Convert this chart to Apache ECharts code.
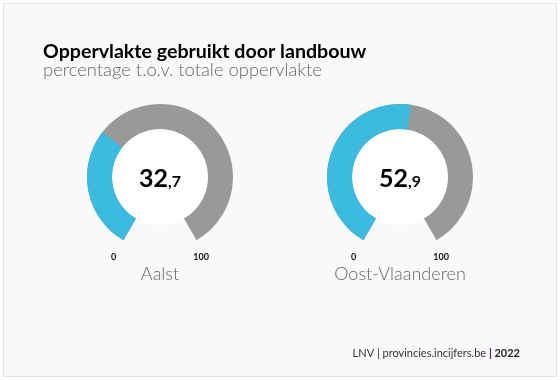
<!DOCTYPE html>
<html>
<head>
<meta charset="utf-8">
<script src="https://cdn.jsdelivr.net/npm/echarts@6/dist/echarts.min.js"></script>
<style>
html,body{margin:0;padding:0;background:#fff;}
#frame{position:absolute;left:3px;top:3px;width:552px;height:372px;border:1px solid #e2e2e2;background:#f9f9f9;}
#chart{position:absolute;left:0;top:0;width:560px;height:380px;}
</style>
</head>
<body>
<div id="frame"></div>
<div id="chart"></div>
<script>
const chartTitle = 'Oppervlakte gebruikt door landbouw';
const chartSubtitle = 'percentage t.o.v. totale oppervlakte';
const regions = ['Aalst', 'Oost-Vlaanderen'];
const shares = [32.7, 52.9];
const scaleMin = 0;
const scaleMax = 100;
const scaleLabels = ['0', '100'];
const sourceText = 'LNV | provincies.incijfers.be';
const yearText = '2022';

const FONT = 'Lato';
const centers = [[160, 177], [400, 177]];

const discs = regions.map((name, i) => ({
  type: 'pie',
  center: centers[i],
  radius: [0, 48],
  silent: true,
  z: 1,
  label: { show: false },
  labelLine: { show: false },
  itemStyle: { color: '#ffffff' },
  animation: false,
  data: [{ value: 1, name: '' }]
}));

const gauges = regions.map((name, i) => ({
  type: 'gauge',
  z: 2,
  center: centers[i],
  radius: 73,
  startAngle: 240,
  endAngle: -60,
  min: scaleMin,
  max: scaleMax,
  splitNumber: 1,
  axisLine: { lineStyle: { width: 25, color: [[1, '#999999']] } },
  progress: { show: true, width: 25, itemStyle: { color: '#3bbbe0' } },
  pointer: { show: false },
  anchor: { show: false },
  axisTick: { show: false },
  splitLine: { show: false, length: 0, distance: 0 },
  axisLabel: {
    show: true, distance: -25, color: '#111', fontFamily: FONT, fontWeight: 'bold', fontSize: 9,
    formatter: v => (v === scaleMin ? scaleLabels[0] : scaleLabels[1])
  },
  title: { show: true, offsetCenter: [0, 97], color: '#666', fontFamily: FONT, fontWeight: 300, fontSize: 18 },
  detail: {
    show: true, offsetCenter: [0, 2], valueAnimation: false,
    formatter: v => {
      const p = v.toFixed(1).split('.');
      return '{a|' + p[0] + '}{b|,' + p[1] + '}';
    },
    rich: {
      a: { fontFamily: FONT, fontWeight: 'bold', fontSize: 25, color: '#000' },
      b: { fontFamily: FONT, fontWeight: 'bold', fontSize: 16, color: '#000', padding: [6, 0, 0, 0] }
    }
  },
  animation: false,
  data: [{ value: shares[i], name: name }]
}));

const chart = echarts.init(document.getElementById('chart'), null, { renderer: 'canvas' });
chart.setOption({
  animation: false,
  title: [
    {
      text: chartTitle, subtext: chartSubtitle, left: 38, top: 37, itemGap: -1,
      textStyle: { fontFamily: FONT, fontWeight: 'bold', fontSize: 19.6, color: '#000' },
      subtextStyle: { fontFamily: FONT, fontWeight: 300, fontSize: 18.4, color: '#666' }
    },
    {
      text: '{n|' + sourceText + ' }{s||}{b| ' + yearText + '}', right: 35, top: 343,
      textStyle: {
        fontWeight: 'normal',
        rich: {
          n: { fontFamily: FONT, fontSize: 11, color: '#333', fontWeight: 'normal' },
          s: { fontFamily: FONT, fontSize: 11, color: '#5a1050', fontWeight: 'bold' },
          b: { fontFamily: FONT, fontSize: 11, color: '#222', fontWeight: 'bold' }
        }
      }
    }
  ],
  series: discs.concat(gauges)
});
</script>
</body>
</html>
